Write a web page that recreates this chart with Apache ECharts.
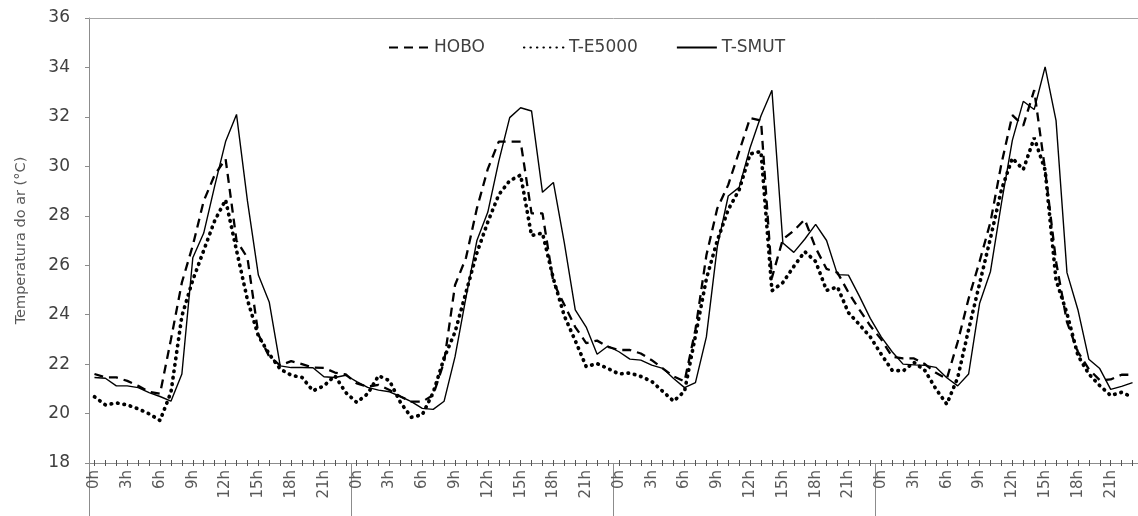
<!DOCTYPE html>
<html>
<head>
<meta charset="utf-8">
<script src="https://cdn.jsdelivr.net/npm/echarts@6/dist/echarts.min.js"></script>
<style>
html,body{margin:0;padding:0;background:#fff;}
#chart{width:1138px;height:516px;}
</style>
</head>
<body>
<div id="chart"></div>
<script>
// Hour labels of one day, repeated for the four days
const dayHours = ['0h','1h','2h','3h','4h','5h','6h','7h','8h','9h','10h','11h',
  '12h','13h','14h','15h','16h','17h','18h','19h','20h','21h','22h','23h'];
const categories = [].concat(dayHours, dayHours, dayHours, dayHours);

const seriesNames = ['HOBO', 'T-E5000', 'T-SMUT'];

// Air temperature (°C), hourly, 4 days
const hobo = [
  21.6, 21.46, 21.46, 21.32, 21.12, 20.88, 20.8, 23.0, 25.3, 26.8, 28.6, 29.65, 30.3, 27.0, 26.3, 23.2, 22.3, 21.95, 22.12, 22.0, 21.86, 21.85, 21.66, 21.58,
  21.22, 21.09, 21.16, 20.95, 20.69, 20.48, 20.48, 20.75, 22.1, 25.2, 26.3, 28.3, 29.9, 31.0, 31.0, 31.0, 28.1, 28.1, 25.3, 24.4, 23.5, 22.85, 22.95, 22.7,
  22.57, 22.57, 22.43, 22.16, 21.83, 21.5, 21.3, 23.4, 26.4, 28.3, 29.25, 30.6, 31.95, 31.85, 25.5, 27.05, 27.4, 27.85, 26.7, 25.85, 25.7, 24.9, 24.2, 23.55,
  23.0, 22.3, 22.23, 22.23, 22.0, 21.65, 21.4, 22.9, 24.65, 26.15, 27.75, 30.1, 32.07, 31.65, 33.08, 29.85, 26.15, 23.7, 22.5, 21.8, 21.35, 21.38, 21.57, 21.57
];
const e5000 = [
  20.68, 20.35, 20.43, 20.35, 20.19, 19.99, 19.72, 20.86, 23.95, 25.4, 26.6, 27.8, 28.64, 26.6, 24.6, 23.14, 22.4, 21.8, 21.55, 21.46, 20.92, 21.12, 21.53, 20.85,
  20.45, 20.8, 21.53, 21.33, 20.45, 19.85, 19.95, 20.85, 22.25, 23.3, 24.9, 26.5, 27.75, 28.85, 29.42, 29.65, 27.2, 27.3, 25.45, 23.95, 22.95, 21.9, 22.02, 21.82,
  21.6, 21.64, 21.5, 21.3, 20.9, 20.5, 20.9, 23.15, 25.45, 27.0, 28.25, 29.05, 30.5, 30.6, 24.97, 25.3, 25.95, 26.55, 26.15, 24.98, 25.12, 24.08, 23.6, 23.1,
  22.4, 21.75, 21.72, 22.07, 21.74, 21.0, 20.38, 21.45, 23.4, 25.25, 27.1, 29.05, 30.33, 29.87, 31.15, 29.85, 25.4, 24.05, 22.35, 21.6, 21.13, 20.73, 20.86, 20.66
];
const smut = [
  21.46, 21.43, 21.12, 21.12, 21.05, 20.85, 20.69, 20.5, 21.6, 26.3, 27.3, 29.2, 31.0, 32.1, 28.6, 25.6, 24.5, 21.93, 21.86, 21.86, 21.85, 21.49, 21.46, 21.55,
  21.29, 21.06, 20.95, 20.88, 20.69, 20.48, 20.21, 20.17, 20.5, 22.3, 24.7, 27.0, 28.15, 30.2, 31.97, 32.37, 32.24, 28.95, 29.35, 26.9, 24.19, 23.5, 22.4, 22.73,
  22.5, 22.2, 22.16, 21.96, 21.83, 21.42, 21.05, 21.25, 23.1, 26.75, 28.8, 29.15, 30.75, 32.05, 33.08, 26.9, 26.52, 27.05, 27.65, 27.0, 25.62, 25.6, 24.75, 23.85,
  23.1, 22.5, 22.0, 21.97, 21.95, 21.87, 21.45, 21.12, 21.6, 24.45, 25.75, 28.5, 31.05, 32.63, 32.3, 34.02, 31.85, 25.7, 24.2, 22.2, 21.82, 20.98, 21.1, 21.25
];

const yMin = 18, yMax = 36, yStep = 2;
const yTitle = 'Temperatura do ar (°C)';

const FONT = 'DejaVu Sans';
const AXIS_GRAY = '#8c8c8c';

const chart = echarts.init(document.getElementById('chart'), null, {renderer: 'canvas'});

const baseCat = {
  type: 'category',
  data: categories,
  boundaryGap: true
};

chart.setOption({
  animation: false,
  backgroundColor: '#ffffff',
  textStyle: {fontFamily: FONT},
  grid: {left: 89, top: 18, width: 1054, height: 445, containLabel: false},
  legend: {
    data: seriesNames,
    left: 383,
    top: 34,
    itemWidth: 40,
    itemHeight: 14,
    itemGap: 38,
    itemStyle: {opacity: 0},
    textStyle: {fontFamily: FONT, fontSize: 17, color: '#404040'}
  },
  xAxis: [
    Object.assign({}, baseCat, {
      position: 'bottom',
      axisLine: {show: true, lineStyle: {color: AXIS_GRAY, width: 1}},
      axisTick: {show: true, alignWithLabel: true, interval: 0, length: 3, lineStyle: {color: '#555'}},
      axisLabel: {show: true, interval: 2, rotate: 90, margin: 7,
        fontFamily: FONT, fontSize: 15, color: '#595959'},
      splitLine: {show: false}
    }),
    Object.assign({}, baseCat, {
      position: 'bottom',
      axisLine: {show: false},
      axisTick: {show: true, inside: true, alignWithLabel: true, interval: 0, length: 3, lineStyle: {color: '#555'}},
      axisLabel: {show: false},
      splitLine: {show: false}
    }),
    Object.assign({}, baseCat, {
      position: 'bottom',
      axisLine: {show: false},
      axisTick: {show: true, interval: function (idx) { return idx % 24 === 0; }, length: 56,
        lineStyle: {color: AXIS_GRAY, width: 1}},
      axisLabel: {show: false},
      splitLine: {show: false}
    }),
    Object.assign({}, baseCat, {
      position: 'top',
      axisLine: {show: true, lineStyle: {color: '#a6a6a6', width: 1}},
      axisTick: {show: false},
      axisLabel: {show: false},
      splitLine: {show: false}
    })
  ],
  yAxis: {
    type: 'value',
    min: yMin, max: yMax, interval: yStep,
    name: yTitle,
    nameLocation: 'middle',
    nameGap: 60,
    nameRotate: 90,
    nameTextStyle: {fontFamily: FONT, fontSize: 14.5, color: '#595959'},
    axisLine: {show: true, lineStyle: {color: AXIS_GRAY, width: 1}},
    axisTick: {show: true, length: 4, lineStyle: {color: AXIS_GRAY}},
    axisLabel: {margin: 19, fontFamily: FONT, fontSize: 17, color: '#404040'},
    splitLine: {show: false}
  },
  series: [
    {
      name: seriesNames[0], type: 'line', data: hobo, xAxisIndex: 0,
      symbol: 'none', showSymbol: false,
      lineStyle: {color: '#000', width: 2.3, type: [9, 6]},
      itemStyle: {color: '#000'}, z: 3
    },
    {
      name: seriesNames[1], type: 'line', data: e5000, xAxisIndex: 0,
      symbol: 'none', showSymbol: false,
      lineStyle: {color: '#000', width: 3.7, type: [0.5, 6], cap: 'round'},
      itemStyle: {color: '#000'}, z: 2
    },
    {
      name: seriesNames[2], type: 'line', data: smut, xAxisIndex: 0,
      symbol: 'none', showSymbol: false,
      lineStyle: {color: '#000', width: 1.4, type: 'solid'},
      itemStyle: {color: '#000'}, z: 4
    }
  ]
});
</script>
</body>
</html>
